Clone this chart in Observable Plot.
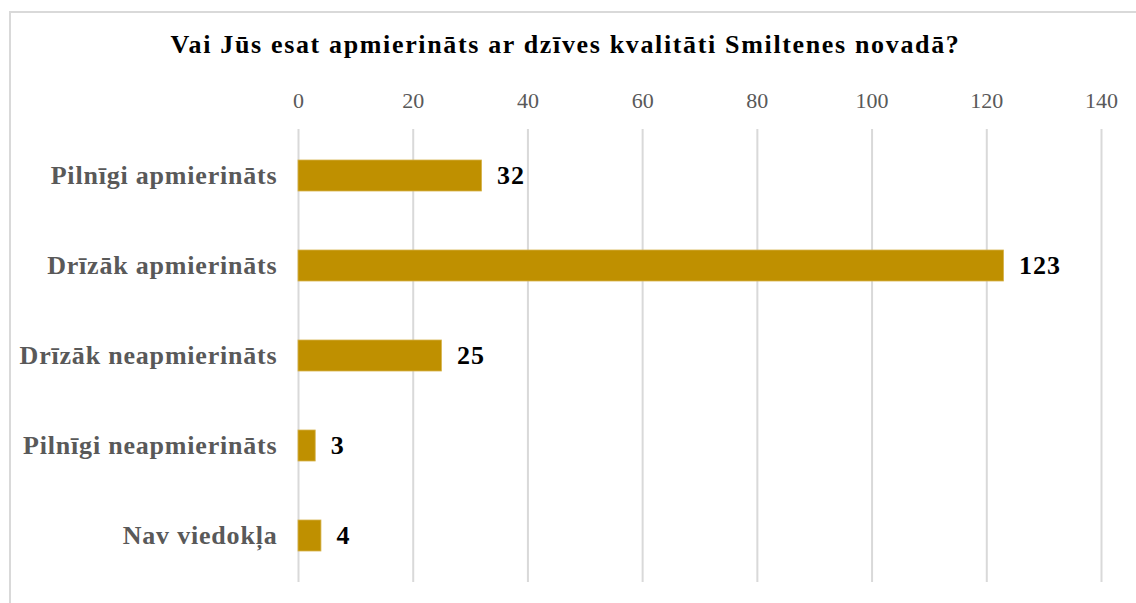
<!DOCTYPE html>
<html>
<head>
<meta charset="utf-8">
<script src="https://cdn.jsdelivr.net/npm/d3@7"></script>
<script src="https://cdn.jsdelivr.net/npm/@observablehq/plot@0.6"></script>
<style>
  html, body { margin: 0; padding: 0; background: #fff; overflow: hidden; width: 1136px; height: 603px; }
  #frame { position: absolute; left: 9px; top: 11px; width: 2000px; height: 2000px; border: 2px solid #d9d9d9; box-sizing: border-box; }
  #title { position: absolute; left: 0; width: 1131px; top: 30px; text-align: center; font-family: "Liberation Serif", "Times New Roman", serif; font-weight: bold; font-size: 26px; letter-spacing: 1.65px; color: #000; white-space: pre; }
  #chart { position: absolute; left: 0; top: 0; }
  #chart g[aria-label="y-axis tick label"] text { letter-spacing: 0.8px; }
  #chart g[aria-label="text"] text { letter-spacing: 1px; }
</style>
</head>
<body>
<div id="frame"></div>
<div id="title">Vai Jūs esat apmierināts ar dzīves kvalitāti Smiltenes novadā?</div>
<div id="chart"></div>
<script>
const categories = ["Pilnīgi apmierināts", "Drīzāk apmierināts", "Drīzāk neapmierināts", "Pilnīgi neapmierināts", "Nav viedokļa"];
const values = [32, 123, 25, 3, 4];
const xTicks = [0, 20, 40, 60, 80, 100, 120, 140];

const data = categories.map((c, i) => ({category: c, value: values[i]}));

const chart = Plot.plot({
  width: 1136,
  height: 603,
  marginLeft: 298,
  marginRight: 35,
  marginTop: 129,
  marginBottom: 21,
  style: {fontFamily: "'Liberation Serif', 'Times New Roman', serif", background: "transparent", overflow: "visible"},
  x: {domain: [0, 140]},
  y: {domain: categories, paddingInner: 0.65, paddingOuter: 0.325},
  marks: [
    Plot.ruleX(xTicks, {stroke: "#d9d9d9", strokeWidth: 2, strokeOpacity: 1}),
    Plot.barX(data, {y: "category", x: "value", fill: "#bf9000", stroke: "#d6b24a", strokeWidth: 0.8}),
    Plot.text(data, {y: "category", x: "value", text: d => String(d.value), textAnchor: "start", dx: 15, fontSize: 26, fontWeight: "bold", fill: "#000"}),
    Plot.axisX({anchor: "top", ticks: xTicks, tickSize: 0, tickPadding: 22, fontSize: 22, fill: "#595959", label: null, tickFormat: d => String(d)}),
    Plot.axisY({anchor: "left", tickSize: 0, tickPadding: 21, fontSize: 26, fontWeight: "bold", fill: "#595959", label: null})
  ]
});
document.getElementById("chart").appendChild(chart);
</script>
</body>
</html>
